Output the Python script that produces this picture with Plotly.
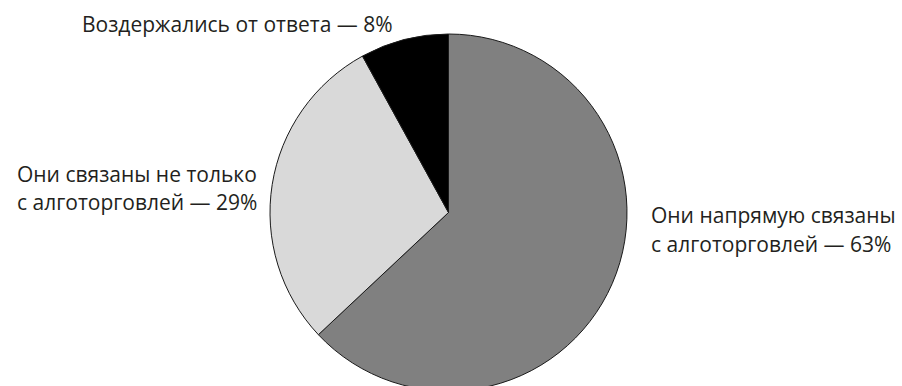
import plotly.graph_objects as go

# Survey answers, clockwise from 12 o'clock
categories = [
    "Они напрямую связаны с алготорговлей",
    "Они связаны не только с алготорговлей",
    "Воздержались от ответа",
]
shares = [63, 29, 8]
colors = ["#808080", "#d9d9d9", "#000000"]

# Label text, one list entry per line
label_lines = [
    ["Они напрямую связаны", "с алготорговлей — 63%"],
    ["Они связаны не только", "с алготорговлей — 29%"],
    ["Воздержались от ответа — 8%"],
]

W, H = 902, 425          # figure is taller than the page; bottom of the pie is cut off
cx, cy, r = 448.5, 212.5, 178.5

fig = go.Figure(
    go.Pie(
        labels=categories,
        values=shares,
        sort=False,
        direction="clockwise",
        rotation=0,
        marker=dict(colors=colors, line=dict(color="#1a1a1a", width=1)),
        textinfo="none",
        hoverinfo="label+percent",
        domain=dict(x=[(cx - r) / W, (cx + r) / W], y=[0, 1]),
        showlegend=False,
    )
)

font = dict(family="Open Sans, Noto Sans, sans-serif", size=21, color="#231f20")

def px_y(y):
    return 1 - y / H

annotations = []
# (x in px, anchor, y centres in px) for each label block
placements = [
    (649, "left", [215, 243.5]),
    (259, "right", [173.5, 202]),
    (395, "right", [24]),
]
for lines, (x, anchor, ys) in zip(label_lines, placements):
    for line, y in zip(lines, ys):
        annotations.append(
            dict(
                text=line, x=x / W, y=px_y(y), xref="paper", yref="paper",
                xanchor=anchor, yanchor="middle", showarrow=False, font=font,
            )
        )

fig.update_layout(
    width=W, height=H, autosize=False,
    margin=dict(l=0, r=0, t=0, b=0),
    paper_bgcolor="white", plot_bgcolor="white",
    annotations=annotations,
)

fig.write_html(
    "out.html",
    post_script="document.documentElement.style.overflow='hidden';document.body.style.overflow='hidden';document.body.style.margin='0';",
)
